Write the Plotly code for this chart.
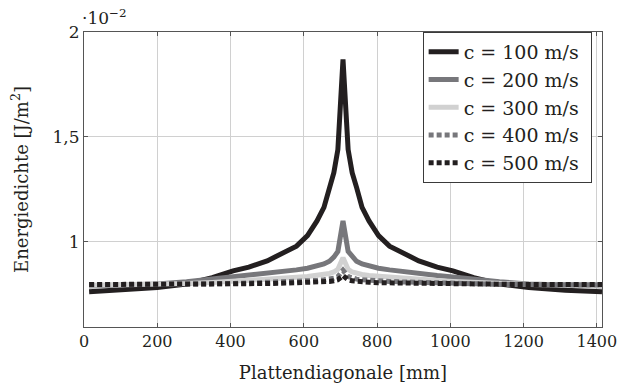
import plotly.graph_objects as go

# Plate diagonal positions [mm]
x_mm = [14, 100, 200, 280, 350, 407, 450, 500, 550, 580, 610, 636, 655, 670, 682, 693, 707,
        721, 732, 744, 759, 778, 804, 834, 864, 914, 964, 1007, 1064, 1134, 1214, 1314, 1414]

# Energy density [J/m^2] in units of 1e-2
e_c100 = [0.763, 0.77, 0.783, 0.80, 0.83, 0.862, 0.88, 0.91, 0.955, 0.98, 1.03, 1.10, 1.165, 1.26, 1.33, 1.44, 1.87,
          1.44, 1.33, 1.26, 1.165, 1.10, 1.03, 0.98, 0.955, 0.91, 0.88, 0.862, 0.83, 0.80, 0.783, 0.77, 0.763]
e_c200 = [0.79, 0.793, 0.80, 0.81, 0.822, 0.833, 0.84, 0.85, 0.86, 0.867, 0.875, 0.884, 0.895, 0.908, 0.928, 0.955, 1.10,
          0.955, 0.928, 0.908, 0.895, 0.884, 0.875, 0.867, 0.86, 0.85, 0.84, 0.833, 0.822, 0.81, 0.80, 0.793, 0.79]
e_c300 = [0.794, 0.795, 0.798, 0.802, 0.807, 0.812, 0.816, 0.822, 0.828, 0.832, 0.836, 0.84, 0.845, 0.85, 0.857, 0.87, 0.925,
          0.87, 0.857, 0.85, 0.845, 0.84, 0.836, 0.832, 0.828, 0.822, 0.816, 0.812, 0.807, 0.802, 0.798, 0.795, 0.794]
e_c400 = [0.796, 0.796, 0.797, 0.798, 0.80, 0.802, 0.804, 0.807, 0.81, 0.812, 0.815, 0.817, 0.82, 0.823, 0.827, 0.835, 0.865,
          0.835, 0.827, 0.823, 0.82, 0.817, 0.815, 0.812, 0.81, 0.807, 0.804, 0.802, 0.80, 0.798, 0.797, 0.796, 0.796]
e_c500 = [0.797, 0.797, 0.797, 0.798, 0.799, 0.80, 0.801, 0.802, 0.804, 0.805, 0.806, 0.808, 0.81, 0.812, 0.815, 0.82, 0.84,
          0.82, 0.815, 0.812, 0.81, 0.808, 0.806, 0.805, 0.804, 0.802, 0.801, 0.80, 0.799, 0.798, 0.797, 0.797, 0.797]

series_names = ["c = 100 m/s", "c = 200 m/s", "c = 300 m/s", "c = 400 m/s", "c = 500 m/s"]
series_vals = [e_c100, e_c200, e_c300, e_c400, e_c500]
series_colors = ["#231f20", "#77777b", "#d1d1d1", "#77777b", "#231f20"]
series_dash = ["solid", "solid", "solid", "5px,3px", "5px,3px"]

x_ticks = [0, 200, 400, 600, 800, 1000, 1200, 1400]
y_ticks = [1, 1.5, 2]
y_ticktext = ["1", "1,5", "2"]

FONT = "DejaVu Serif"
TXT = "#231f20"

fig = go.Figure()
for name, vals, col, dash in zip(series_names, series_vals, series_colors, series_dash):
    fig.add_trace(go.Scatter(
        x=x_mm, y=vals, mode="lines", name=name.replace(" ", "\u00a0") + "\u00a0",
        legendgroup=name,
        line=dict(color=col, width=5, dash=dash),
    ))

fig.update_layout(
    width=621, height=385,
    margin=dict(l=84, r=19, t=32, b=58),
    paper_bgcolor="white", plot_bgcolor="white",
    font=dict(family=FONT, size=18, color=TXT),
    showlegend=True,
    legend=dict(
        x=0.98, y=1.0, xanchor="right", yanchor="top",
        bgcolor="white", bordercolor="#3a3a3a", borderwidth=1,
        font=dict(family=FONT, size=19, color=TXT),
        traceorder="grouped", tracegroupgap=0, itemwidth=30,
    ),
    xaxis=dict(
        range=[0, 1414], tickvals=x_ticks, automargin=False,
        showgrid=True, gridcolor="#d0d0d0", gridwidth=1,
        showline=True, linecolor="#555555", linewidth=1, mirror="ticks",
        ticks="inside", ticklen=4, tickcolor="#555555",
        zeroline=False, tickfont=dict(family=FONT, size=16),
        title=dict(text="Plattendiagonale [mm]", standoff=16, font=dict(family=FONT, size=18)),
    ),
    yaxis=dict(
        range=[0.595, 2.0], tickvals=y_ticks, ticktext=y_ticktext, automargin=False,
        showgrid=True, gridcolor="#d0d0d0", gridwidth=1,
        showline=True, linecolor="#555555", linewidth=1, mirror="ticks",
        ticks="inside", ticklen=4, tickcolor="#555555",
        zeroline=False, tickfont=dict(family=FONT, size=17),
        title=dict(text="Energiedichte [J/m<sup>2</sup>]", standoff=19, font=dict(family=FONT, size=18)),
    ),
)

fig.add_annotation(
    x=0, y=1.0, xref="paper", yref="paper", xanchor="left", yanchor="bottom",
    text="·10<sup>−2</sup>", showarrow=False, font=dict(family=FONT, size=17, color=TXT),
    xshift=-4, yshift=2,
)

fig.write_html("out.html", config={"displayModeBar": False},
               post_script="document.body.style.margin='0';")
